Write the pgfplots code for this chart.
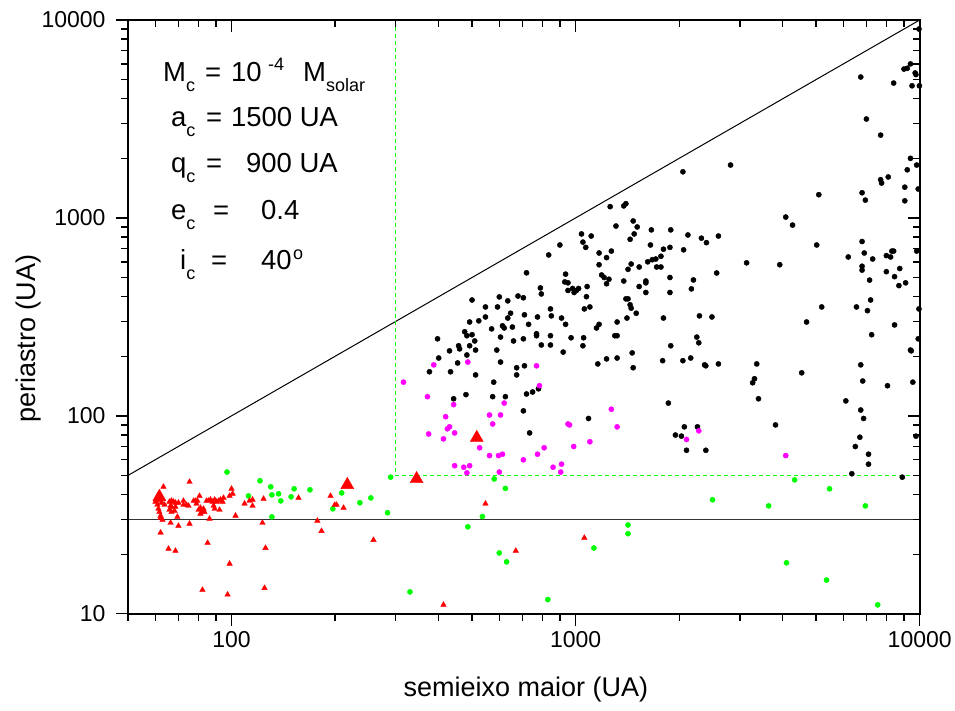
\documentclass[border=0pt]{standalone}
\usepackage{pgfplots}
\pgfplotsset{compat=1.18}
\usepackage{fontspec}
\setmainfont{Liberation Sans}
\definecolor{mag}{RGB}{255,0,255}
\definecolor{grn}{RGB}{0,255,0}
\definecolor{rd}{RGB}{255,0,0}

\begin{document}
\begin{tikzpicture}
\path (-128pt,-97pt) rectangle (827pt,614pt);
\begin{axis}[
    at={(0pt,0pt)}, anchor=south west, scale only axis,
    width=792pt, height=594pt,
    xmode=log, ymode=log,
    xmin=50, xmax=10000, ymin=10, ymax=10000,
    major tick length=12pt, minor tick length=7pt,
    tick style={black, line width=1.4pt},
    tick pos=left, tick align=outside,
    log ticks with fixed point,
    xticklabel style={font=\fontsize{23}{26}\selectfont, yshift=-2pt},
    yticklabel style={font=\fontsize{23}{26}\selectfont, xshift=-7pt},
    /pgf/number format/1000 sep={},
    /pgf/number format/assume math mode=true]
\addplot[black, line width=1pt] coordinates {(50,50) (10000,10000)};
\addplot[black!80, line width=1pt] coordinates {(50,30) (10000,30)};
\addplot[grn, line width=1.3pt, dash pattern=on 4pt off 3pt] coordinates {(300,10000) (300,50) (10000,50)};
\end{axis}
\begin{axis}[
    at={(0pt,0pt)}, anchor=south west, scale only axis,
    width=792pt, height=594pt,
    xmode=log, ymode=log,
    xmin=50, xmax=10000, ymin=10, ymax=10000,
    major tick length=12pt, minor tick length=7pt,
    tick style={black, line width=1.4pt},
    tick pos=right, tick align=inside,
    xticklabels={}, yticklabels={}]
\addplot[draw=none, mark=none] coordinates {(100,100)};
\end{axis}
\draw[line width=2pt] (0pt,0pt) rectangle (792pt,594pt);
\begin{axis}[
    at={(0pt,0pt)}, anchor=south west, scale only axis,
    width=792pt, height=594pt,
    xmode=log, ymode=log,
    xmin=50, xmax=10000, ymin=10, ymax=10000,
    hide axis, clip=false]
\addplot[only marks, mark=*, mark size=2.6pt, color=black] table {
x y
1260 1140
1380 1150
1400 1180
900 730
835 650
1040 830
1110 810
1050 755
1070 710
1310 910
1470 965
1510 900
1480 830
1440 780
1660 870
1890 870
1650 730
1800 695
1880 710
1170 665
1270 680
1230 630
1450 585
1420 550
1530 565
1620 600
1670 615
1710 620
1770 640
1720 565
1770 565
1170 580
1190 515
1210 500
1250 490
1230 465
1380 480
1600 480
1600 470
1530 450
1600 420
1880 500
1880 420
935 520
930 475
950 470
950 430
980 440
990 420
1005 430
1020 440
1080 450
1075 400
1060 347
1100 355
1400 390
1420 390
1440 364
1450 350
1500 330
1410 312
1320 298
1170 290
1150 278
1300 254
1320 254
1800 312
1890 226
1790 190
1460 208
1470 175
1320 196
1230 194
1160 183
1055 248
1050 226
970 248
920 210
910 312
935 290
850 320
845 347
790 443
795 413
720 528
680 403
705 395
647 330
635 312
710 324
730 290
775 316
770 260
770 254
845 254
795 228
845 228
705 245
660 239
600 399
593 355
635 381
547 355
547 316
500 385
523 302
492 298
570 275
613 285
620 278
655 281
605 250
476 266
500 257
483 254
509 239
457 226
460 218
492 226
512 215
483 203
430 213
397 245
400 196
454 185
433 167
376 167
512 161
590 215
605 187
674 175
674 161
710 179
578 148
780 137
750 132
720 129
574 125
625 125
480 128
442 122
705 106
1090 97
735 82
1860 116
1950 80
9950 9000
9000 5650
9200 5700
9400 6000
9700 5400
9750 5300
6740 5150
8400 4800
9500 4650
9980 4650
7000 3160
7700 2620
9400 2000
9800 1850
9200 1750
2050 1710
2820 1850
7700 1560
7750 1500
8100 1610
9050 1430
9900 1400
5090 1310
6800 1340
6950 1230
9050 1220
4080 1010
4270 920
2120 820
2320 790
2400 750
2600 810
2060 690
6800 760
6900 665
7300 620
5020 730
6200 635
8000 645
8230 635
8300 680
8400 680
9800 680
6800 570
6800 545
7150 485
8000 535
8450 505
8750 555
8700 455
9100 470
7200 385
7050 340
6550 355
5190 355
9950 347
3140 593
3920 580
2570 527
2200 486
2170 438
2290 320
2490 316
2050 190
2160 196
2250 250
2280 234
2370 181
2390 179
2600 183
2070 88
2030 79
2260 88
2100 67
2390 67
4690 298
8450 288
7250 257
9900 245
9400 215
9450 213
4540 165
3360 183
3310 154
3270 147
3400 122
3810 90
6740 181
6830 150
8060 142
9550 148
6100 119
6740 107
6870 97
6700 78
6500 70
7100 64
7100 57
6350 51
8900 49
9750 79
};
\addplot[only marks, mark=*, mark size=2.6pt, color=mag] table {
x y
387 181
486 187
316 148
770 179
785 142
371 125
620 116
442 114
562 101
605 101
419 99
574 91
430 88
424 86
374 81
445 82
413 76.5
526 69
562 63
597 63
613 64
445 56
473 55
492 56
483 51.5
600 52
705 60
775 64
810 69
860 55
910 57
905 52
950 91
960 90
987 70
1100 74
1270 108
1320 88
2100 76
2280 84
4080 63
};
\addplot[only marks, mark=*, mark size=2.6pt, color=grn] table {
x y
290 49
580 48
625 43
536 31
486 27.5
600 20.3
630 18.3
330 12.9
830 11.8
1420 28.1
1420 25.4
1130 21.5
2500 37.7
3640 35.1
6950 35.1
4330 47.5
5470 42.8
4100 18.1
5360 14.8
7550 11.1
97 52
121 47
130 43.8
112 39.4
131 39.9
137 40.4
139 37.2
152 42.8
169 42.3
149 39
131 30.9
209 40.8
197 33.9
236 36.4
254 38.5
284 32.4
};
\addplot[only marks, mark=triangle*, mark size=3.2pt, color=rd] table {
x y
547 36
670 20.8
413 11.1
1060 24.2
63.4 43.8
75.5 46.4
61.7 40.8
60.5 37.2
62.2 37.7
60.1 36.8
60.9 35.5
62.6 36.4
63.9 35.5
66.0 36.8
66.9 37.2
67.8 36.8
68.7 36.4
70.1 36.4
66.5 35.1
66.9 34.7
68.7 34.7
68.3 33.1
66.9 32.7
66.0 33.5
61.3 33.9
61.7 32.7
62.2 31.3
62.2 30.5
63.0 29.8
72.5 37.2
74.0 35.5
72.5 35.5
75.0 35.1
77.6 37.2
78.6 37.2
79.6 37.2
80.7 39.4
79.1 36.0
80.2 33.5
81.8 32.7
81.2 34.3
82.9 33.9
83.4 32.7
81.2 32.0
84.6 37.2
85.7 37.2
86.9 37.7
88.1 36.8
89.3 37.7
90.5 36.8
91.7 37.2
92.9 37.7
94.2 36.8
88.7 35.1
89.3 33.9
92.3 33.5
86.3 30.2
69.6 30.9
66.5 28.8
70.1 27.8
75.5 28.5
62.2 25.7
85.2 22.8
65.6 21.3
68.7 20.8
100 42.8
100.7 40.4
98.7 39.4
94.8 38.5
102.7 31.3
109.1 36.0
112.8 37.2
115.1 37.7
115.1 35.1
123.9 38.1
123.0 28.8
125.5 21.5
124.7 13.5
98.7 17.9
97.4 12.5
82.3 13.2
156.6 38.5
194 39.4
199.5 35.5
202 35.5
211.6 34.3
177.6 29.5
182.6 26.2
258.5 23.6
};
\addplot[only marks, mark=triangle*, mark size=7.5pt, color=rd] table {
x y
61.7 39
217 44.8
345 48
516 77.5
};
\end{axis}
\begin{scope}[every node/.style={inner sep=0pt, anchor=base west, font=\fontsize{27.5}{32}\selectfont}]
\node at (35pt,532pt) {M\raisebox{-10pt}{\fontsize{18}{18}\selectfont c}};
\node at (77pt,532pt) {=};
\node at (103pt,532pt) {10};
\node[font=\fontsize{18}{18}\selectfont] at (140pt,543pt) {-4};
\node at (175pt,532pt) {M\raisebox{-10pt}{\fontsize{18}{18}\selectfont solar}};
\node at (43pt,487pt) {a\raisebox{-10pt}{\fontsize{18}{18}\selectfont c}};
\node at (78pt,487pt) {=};
\node at (103pt,487pt) {1500 UA};
\node at (43pt,441pt) {q\raisebox{-10pt}{\fontsize{18}{18}\selectfont c}};
\node at (78pt,441pt) {=};
\node at (118pt,441pt) {900 UA};
\node at (43pt,394pt) {e\raisebox{-10pt}{\fontsize{18}{18}\selectfont c}};
\node at (85pt,394pt) {=};
\node at (133pt,394pt) {0.4};
\node at (52pt,344pt) {i\raisebox{-10pt}{\fontsize{18}{18}\selectfont c}};
\node at (83pt,344pt) {=};
\node at (133pt,344pt) {40};
\node[font=\fontsize{18}{18}\selectfont] at (165pt,354pt) {o};
\end{scope}
\node[font=\fontsize{27}{30}\selectfont] at (398pt,-76pt) {semieixo maior (UA)};
\node[font=\fontsize{27}{30}\selectfont, rotate=90] at (-99pt,275pt) {periastro (UA)};
\end{tikzpicture}
\end{document}
